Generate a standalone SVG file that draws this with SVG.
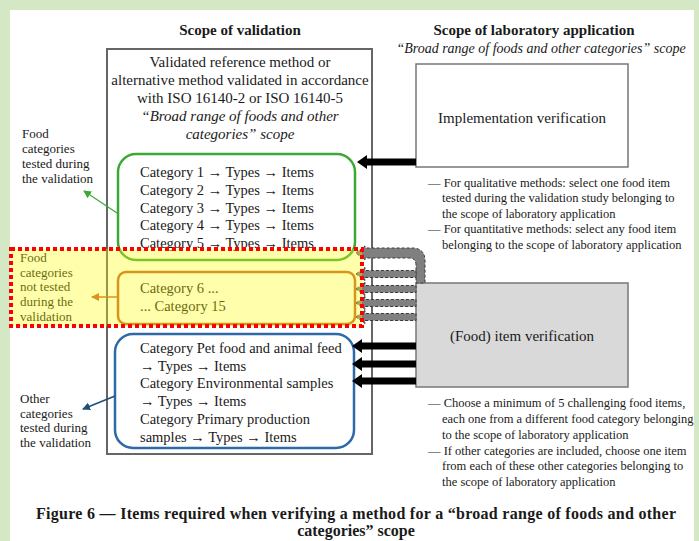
<svg xmlns="http://www.w3.org/2000/svg" width="699" height="541" viewBox="0 0 699 541">
<style>
text{font-family:"Liberation Serif","Times New Roman",serif;fill:#1a1a1a}
.hd{font-size:15px;font-weight:bold;text-anchor:middle}
.it{font-style:italic}
.mid{text-anchor:middle}
.m15{font-size:15px}
.cat{font-size:14.5px}
.ann{font-size:13px}
.bul{font-size:12.5px}
.cap{font-size:16px;font-weight:bold;text-anchor:middle}
.blk{fill:#000}
.dsh{fill:#808080;stroke:#3a3a3a;stroke-width:1;stroke-dasharray:3 2}
</style>
<defs>
<marker id="mg" markerWidth="8" markerHeight="8" refX="7" refY="4" orient="auto" markerUnits="userSpaceOnUse"><path d="M0 0 L8 4 L0 8 Z" fill="#3aaa35"/></marker>
<marker id="mo" markerWidth="8" markerHeight="8" refX="7" refY="4" orient="auto" markerUnits="userSpaceOnUse"><path d="M0 0 L8 4 L0 8 Z" fill="#c5622a"/></marker>
<marker id="mb" markerWidth="8" markerHeight="8" refX="7" refY="4" orient="auto" markerUnits="userSpaceOnUse"><path d="M0 0 L8 4 L0 8 Z" fill="#1f4e79"/></marker>
</defs>
<rect x="0" y="0" width="699" height="541" fill="#d5e8c6"/>
<rect x="10" y="10" width="684" height="531" fill="#ffffff"/>

<text class="hd" x="240" y="35">Scope of validation</text>
<text class="hd" x="534" y="35">Scope of laboratory application</text>
<text class="it mid" style="font-size:14px" x="541" y="53">“Broad range of foods and other categories” scope</text>

<g id="validation-scope">
<rect x="107" y="49" width="265" height="405" fill="none" stroke="#666" stroke-width="2"/>
<text class="m15 mid" x="240" y="67">Validated reference method or</text>
<text class="m15 mid" x="240" y="85">alternative method validated in accordance</text>
<text class="m15 mid" x="240" y="103">with ISO 16140-2 or ISO 16140-5</text>
<text class="m15 mid it" x="240" y="121">“Broad range of foods and other</text>
<text class="m15 mid it" x="240" y="139">categories” scope</text>
</g>

<g id="tested-categories">
<rect x="118" y="154" width="237" height="106" rx="18" fill="#fff" stroke="#3aaa35" stroke-width="2.5"/>
<text class="cat" x="140" y="177">Category 1 → Types → Items</text>
<text class="cat" x="140" y="195">Category 2 → Types → Items</text>
<text class="cat" x="140" y="213">Category 3 → Types → Items</text>
<text class="cat" x="140" y="230">Category 4 → Types → Items</text>
<text class="cat" x="140" y="248">Category 5 → Types → Items</text>
</g>

<g id="untested-categories">
<rect x="118" y="272" width="237" height="52" rx="8" fill="#fff" stroke="#c5622a" stroke-width="2.5"/>
<text class="cat" x="140" y="293">Category 6 ...</text>
<text class="cat" x="140" y="311">... Category 15</text>
</g>

<g id="other-categories">
<rect x="115" y="334" width="239" height="114" rx="18" fill="#fff" stroke="#2e6aa8" stroke-width="2.5"/>
<text class="cat" x="140" y="353">Category Pet food and animal feed</text>
<text class="cat" x="140" y="371">→ Types → Items</text>
<text class="cat" x="140" y="388">Category Environmental samples</text>
<text class="cat" x="140" y="406">→ Types → Items</text>
<text class="cat" x="140" y="424">Category Primary production</text>
<text class="cat" x="140" y="442">samples → Types → Items</text>
</g>

<g id="label-tested">
<text class="ann" x="22" y="138">Food</text>
<text class="ann" x="22" y="153">categories</text>
<text class="ann" x="22" y="168">tested during</text>
<text class="ann" x="22" y="183">the validation</text>
</g>

<g id="label-untested">
<text class="ann" x="20" y="262">Food</text>
<text class="ann" x="20" y="277">categories</text>
<text class="ann" x="20" y="291">not tested</text>
<text class="ann" x="20" y="306">during the</text>
<text class="ann" x="20" y="321">validation</text>
</g>

<g id="label-other">
<text class="ann" x="20" y="403">Other</text>
<text class="ann" x="20" y="418">categories</text>
<text class="ann" x="20" y="432">tested during</text>
<text class="ann" x="20" y="447">the validation</text>
</g>

<g id="implementation-verification">
<rect x="416" y="64" width="212" height="103" fill="#fff" stroke="#777" stroke-width="1.5"/>
<text class="m15 mid" x="522" y="123">Implementation verification</text>
</g>

<g id="implementation-notes">
<text class="bul" x="428" y="187">— For qualitative methods: select one food item</text>
<text class="bul" x="442" y="202">tested during the validation study belonging to</text>
<text class="bul" x="442" y="218">the scope of laboratory application</text>
<text class="bul" x="428" y="233">— For quantitative methods: select any food item</text>
<text class="bul" x="442" y="249">belonging to the scope of laboratory application</text>
</g>

<g id="item-verification">
<rect x="416" y="283" width="212" height="104" fill="#d9d9d9" stroke="#777" stroke-width="1.5"/>
<text class="m15 mid" x="522" y="341">(Food) item verification</text>
</g>

<g id="item-notes">
<text class="bul" x="428" y="407">— Choose a minimum of 5 challenging food items,</text>
<text class="bul" x="442" y="423">each one from a different food category belonging</text>
<text class="bul" x="442" y="439">to the scope of laboratory application</text>
<text class="bul" x="428" y="455">— If other categories are included, choose one item</text>
<text class="bul" x="442" y="470">from each of these other categories belonging to</text>
<text class="bul" x="442" y="486">the scope of laboratory application</text>
</g>

<g id="connectors">
<line x1="117" y1="213" x2="84" y2="191" stroke="#3aaa35" stroke-width="1.2" marker-end="url(#mg)"/>
<line x1="117" y1="297" x2="92" y2="297" stroke="#c5622a" stroke-width="1.5" marker-end="url(#mo)"/>
<line x1="115" y1="396" x2="83" y2="409" stroke="#1f4e79" stroke-width="1.5" marker-end="url(#mb)"/>
<path class="blk" d="M357 162 L367 155 L367 158.5 L416 158.5 L416 165.5 L367 165.5 L367 169 Z"/>
<path class="blk" d="M352 346 L362 339 L362 342.5 L416 342.5 L416 349.5 L362 349.5 L362 353 Z"/>
<path class="blk" d="M352 364 L362 357 L362 360.5 L416 360.5 L416 367.5 L362 367.5 L362 371 Z"/>
<path class="blk" d="M352 381 L362 374 L362 377.5 L416 377.5 L416 384.5 L362 384.5 L362 388 Z"/>
<path class="dsh" d="M356 253 L365 246 L365 248 L412 248 Q425 248 425 261 L425 283 L416 283 L416 265 Q416 258 409 258 L365 258 L365 260 Z"/>
<path class="dsh" d="M356 274 L365 267.5 L365 270.5 L416 270.5 L416 277.5 L365 277.5 L365 280.5 Z"/>
<path class="dsh" d="M356 289 L365 282.5 L365 285.5 L416 285.5 L416 292.5 L365 292.5 L365 295.5 Z"/>
<path class="dsh" d="M356 303 L365 296.5 L365 299.5 L416 299.5 L416 306.5 L365 306.5 L365 309.5 Z"/>
<path class="dsh" d="M356 317 L365 310.5 L365 313.5 L416 313.5 L416 320.5 L365 320.5 L365 323.5 Z"/>
</g>

<g id="not-tested-band">
<rect x="11" y="249" width="351" height="77" fill="#ffff00" fill-opacity="0.33"/>
<rect x="11" y="249" width="351" height="77" fill="none" stroke="#ff0000" stroke-width="4" stroke-dasharray="4 3"/>
</g>

<g id="caption">
<text class="cap" x="356" y="519" textLength="640" lengthAdjust="spacing">Figure 6 — Items required when verifying a method for a “broad range of foods and other</text>
<text class="cap" x="356" y="536">categories” scope</text>
</g>
</svg>
